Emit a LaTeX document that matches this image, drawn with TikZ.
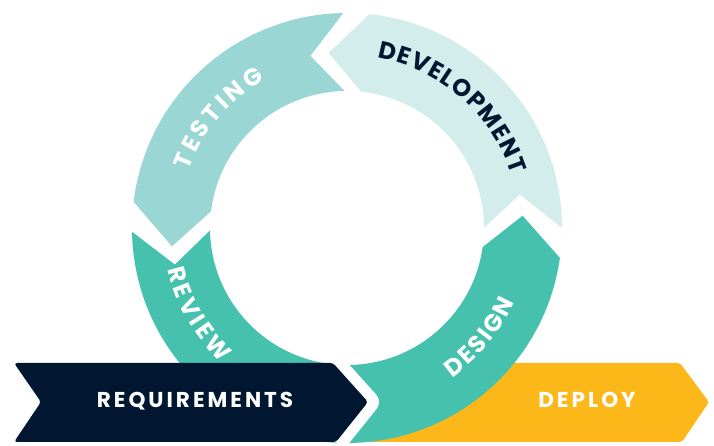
\documentclass[tikz,border=0pt]{standalone}
\usepackage{fontspec}
\setmainfont{Poppins}
\usepackage{tikz}
\usetikzlibrary{decorations.text}

\definecolor{testcol}{HTML}{9AD6D3}
\definecolor{devcol}{HTML}{D3ECEC}
\definecolor{designcol}{HTML}{45C1AE}
\definecolor{navy}{HTML}{011631}
\definecolor{deploycol}{HTML}{FBB818}

\newcommand{\ringfont}{\fontsize{24pt}{24pt}\selectfont\bfseries}

\begin{document}
\begin{tikzpicture}[x=1pt,y=1pt,
    chevtext/.style={anchor=base,text=white,font=\fontsize{21.5}{21.5}\selectfont\bfseries\addfontfeature{LetterSpace=14}},
    ringtext/.style={decorate,decoration={text along path,text align={fit to path},text color=white}}]
    \useasboundingbox (0,0) rectangle (714,446);
    % deploy lies under the ring
    \fill[deploycol,rounded corners=3pt] (350,4) -- (420,83) -- (680,83) -- (709,44) -- (682,4) -- cycle;
    \begin{scope}[shift={(347,218)}]
    \fill[devcol] (0:215) arc[start angle=0,end angle=84,radius=215pt] -- (96:176)
        -- (84:137) arc[start angle=84,end angle=0,radius=137pt] -- (11:176) -- cycle;
    \fill[testcol] (91:215) arc[start angle=91,end angle=173,radius=215pt] -- (186:176)
        -- (173:137) arc[start angle=173,end angle=91,radius=137pt] -- (102:176) -- cycle;
    % review and design, joined under the requirements arrow
    \fill[designcol] (181:215) arc[start angle=181,end angle=352,radius=215pt] -- (364:176)
        -- (352:137) arc[start angle=352,end angle=181,radius=137pt] -- (192:176) -- cycle;
    \path[ringtext,decoration={text={|\ringfont|TESTING}}]
        (160:169) arc[start angle=160,end angle=119,radius=169pt];
    \path[ringtext,decoration={text color=navy,text={|\ringfont|DEVELOPMENT}}]
        (80:173) arc[start angle=80,end angle=18,radius=173pt];
    \path[ringtext,decoration={text={|\ringfont|REVIEW}}]
        (193:184) arc[start angle=193,end angle=227,radius=184pt];
    \path[ringtext,decoration={text={|\ringfont|DESIGN}}]
        (-55:183) arc[start angle=-55,end angle=-24,radius=183pt];
    \end{scope}
    \draw[white,line width=22pt,line join=round] (333,83) -- (368,44) -- (336,4);
    \fill[navy,rounded corners=3pt] (14,83) -- (333,83) -- (368,44) -- (336,4) -- (14,4) -- (41,44) -- cycle;
    \node[chevtext] (req) at (195,38) {REQUIREMENTS};
    \node[chevtext] (deploy) at (587,38) {DEPLOY};
\end{tikzpicture}
\end{document}
